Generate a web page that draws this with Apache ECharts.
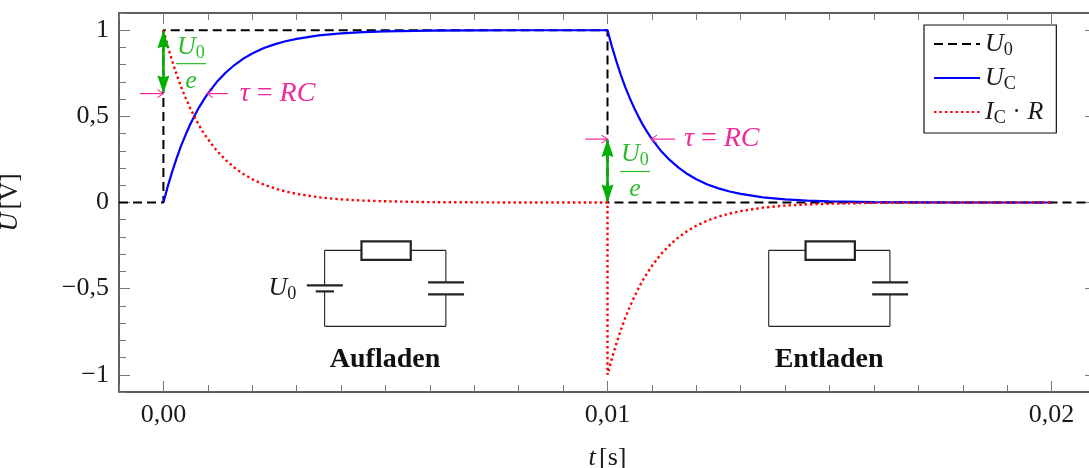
<!DOCTYPE html>
<html><head><meta charset="utf-8">
<style>html,body{margin:0;padding:0;background:#fff}#c{width:1089px;height:468px}</style>
<script src="https://cdn.jsdelivr.net/npm/echarts@6/dist/echarts.min.js"></script>
</head><body><div id="c"></div>
<script>
// ---- data ----
const xMajorTicks = [0, 0.01, 0.02];
const xTickLabels = ['0,00', '0,01', '0,02'];
const yMajorTicks = [-1, -0.5, 0, 0.5, 1];
const yTickLabels = ['\u22121', '\u22120,5', '0', '0,5', '1'];
const u0Times = [-0.001, 0, 0, 0.01, 0.01, 0.021];
const u0Values = [0, 0, 1, 1, 0, 0];
const curveTimes = [0,0.0001,0.0002,0.0003,0.0004,0.0005,0.0006,0.0007,0.0008,0.0009,0.001,0.0012,0.0014,0.0016,0.0018,0.002,0.00225,0.0025,0.00275,0.003,0.0035,0.004,0.0045,0.005,0.006,0.007,0.008,0.01,
  0.01,0.0101,0.0102,0.0103,0.0104,0.0105,0.0106,0.0107,0.0108,0.0109,0.011,0.0112,0.0114,0.0116,0.0118,0.012,0.01225,0.0125,0.01275,0.013,0.0135,0.014,0.0145,0.015,0.016,0.017,0.018,0.02];
const ucValues = [0,0.095,0.181,0.259,0.33,0.393,0.451,0.503,0.551,0.593,0.632,0.699,0.753,0.798,0.835,0.865,0.895,0.918,0.936,0.95,0.97,0.982,0.989,0.993,0.998,0.999,1,1,
  1,0.905,0.819,0.741,0.67,0.607,0.549,0.497,0.449,0.407,0.368,0.301,0.247,0.202,0.165,0.135,0.105,0.082,0.064,0.05,0.03,0.018,0.011,0.007,0.002,0.001,0,0];
const irValues = [1,0.905,0.819,0.741,0.67,0.607,0.549,0.497,0.449,0.407,0.368,0.301,0.247,0.202,0.165,0.135,0.105,0.082,0.064,0.05,0.03,0.018,0.011,0.007,0.002,0.001,0,0,
  -1,-0.905,-0.819,-0.741,-0.67,-0.607,-0.549,-0.497,-0.449,-0.407,-0.368,-0.301,-0.247,-0.202,-0.165,-0.135,-0.105,-0.082,-0.064,-0.05,-0.03,-0.018,-0.011,-0.007,-0.002,-0.001,0,0];
const seriesNames = ['U0', 'UC', 'IC\u00b7R'];
const irTimes = curveTimes.slice(0, 28).concat([0.01], curveTimes.slice(28));
const irAll = irValues.slice(0, 28).concat([0], irValues.slice(28));

const FONT = '"Liberation Serif","Times New Roman",serif';
const TEXT = '#1a1a1a', FRAME = '#2a2a2a', TICK = '#777';
const GREEN = '#00b000', GREENTXT = '#2cbc2c', PINK = '#ee2a9c';
const FS = 26;

function pairs(xs, ys) { return xs.map((x, i) => [x, ys[i]]); }
function mathRich(size, color) {
  return {
    i: {fontFamily: FONT, fontStyle: 'italic', fontSize: size, fill: color, color: color, verticalAlign: 'middle', lineHeight: 30},
    r: {fontFamily: FONT, fontSize: size, fill: color, color: color, verticalAlign: 'middle', lineHeight: 30},
    s: {fontFamily: FONT, fontSize: size * 0.7, fill: color, color: color, verticalAlign: 'bottom', lineHeight: 30}
  };
}
function txt(p, text, color, size, align, extra) {
  return {type: 'text', x: p[0], y: p[1], z2: 20, style: Object.assign({
    text: text, fill: color, fontFamily: FONT, fontSize: size,
    align: align || 'center', verticalAlign: 'middle', rich: mathRich(size, color)
  }, extra || {})};
}
function seg(a, b, color, w) {
  return {type: 'line', z2: 15, shape: {x1: a[0], y1: a[1], x2: b[0], y2: b[1]}, style: {stroke: color, lineWidth: w}};
}
function rectEl(a, b, color, w) {
  return {type: 'rect', z2: 15, shape: {x: a[0], y: a[1], width: b[0] - a[0], height: b[1] - a[1]}, style: {stroke: color, lineWidth: w, fill: '#fff'}};
}
function greenArrow(api, x, yTop, yBot) {
  const a = api.coord([x, yTop]), b = api.coord([x, yBot]);
  const L = 18, W = 6;
  return [
    seg([a[0], a[1] + 10], [b[0], b[1] - 10], GREEN, 2.6),
    {type: 'polygon', z2: 16, shape: {points: [[a[0], a[1]], [a[0] + W, a[1] + L], [a[0], a[1] + L - 2], [a[0] - W, a[1] + L]]}, style: {fill: GREEN}},
    {type: 'polygon', z2: 16, shape: {points: [[b[0], b[1]], [b[0] + W, b[1] - L], [b[0], b[1] - L + 2], [b[0] - W, b[1] - L]]}, style: {fill: GREEN}}
  ];
}
function pinkArrow(api, from, to) {
  const a = api.coord(from), b = api.coord(to);
  const d = b[0] > a[0] ? 1 : -1;
  return [
    seg(a, b, PINK, 1.2),
    {type: 'polyline', z2: 16, shape: {points: [[b[0] - d * 6, b[1] - 4], [b[0], b[1]], [b[0] - d * 6, b[1] + 4]]}, style: {stroke: PINK, fill: null, lineWidth: 1.1}}
  ];
}
function fraction(api, xc, yU, yBar, yE) {
  const u = api.coord([xc, yU]), bar = api.coord([xc, yBar]), e = api.coord([xc, yE]);
  return [
    txt(u, '{i|U}{s|0}', GREENTXT, FS),
    seg([bar[0] - 15, bar[1]], [bar[0] + 15, bar[1]], GREENTXT, 1.2),
    txt(e, '{i|e}', GREENTXT, FS)
  ];
}
function circuit(api, dx, withBattery) {
  const c = (x, y) => api.coord([x + dx, y]);
  const top = -0.278, bot = -0.719, xL = 0.00363, xR = 0.00636;
  const els = [];
  const W = 1.1, P = 2.2;
  els.push(seg(c(xL, top), c(0.00446, top), '#222', W));
  els.push(seg(c(0.00557, top), c(xR, top), '#222', W));
  els.push(rectEl(c(0.00446, -0.226), c(0.00557, -0.333), '#222', P));
  els.push(seg(c(xL, bot), c(xR, bot), '#222', W));
  if (withBattery) {
    els.push(seg(c(xL, top), c(xL, -0.481), '#222', W));
    els.push(seg(c(xL, -0.516), c(xL, bot), '#222', W));
    els.push(seg(c(0.00323, -0.481), c(0.00404, -0.481), '#222', P));
    els.push(seg(c(0.00343, -0.516), c(0.00384, -0.516), '#222', P));
  } else {
    els.push(seg(c(xL, top), c(xL, bot), '#222', W));
  }
  els.push(seg(c(xR, top), c(xR, -0.464), '#222', W));
  els.push(seg(c(xR, -0.533), c(xR, bot), '#222', W));
  els.push(seg(c(0.00596, -0.464), c(0.00677, -0.464), '#222', P));
  els.push(seg(c(0.00596, -0.533), c(0.00677, -0.533), '#222', P));
  return els;
}
function renderNotes(params, api) {
  let ch = [];
  ch = ch.concat(greenArrow(api, 0, 1, 0.632), greenArrow(api, 0.01, 0.368, 0));
  ch = ch.concat(fraction(api, 0.00062, 0.904, 0.806, 0.703), fraction(api, 0.01062, 0.278, 0.18, 0.075));
  ch = ch.concat(pinkArrow(api, [-0.00053, 0.632], [0, 0.632]), pinkArrow(api, [0.00145, 0.632], [0.00098, 0.632]));
  ch = ch.concat(pinkArrow(api, [0.0095, 0.368], [0.01, 0.368]), pinkArrow(api, [0.01152, 0.368], [0.01098, 0.368]));
  const tau = '{i|\u03c4}{r| = }{i|RC}';
  ch.push(txt(api.coord([0.00172, 0.632]), tau, PINK, FS + 2, 'left'));
  ch.push(txt(api.coord([0.01172, 0.368]), tau, PINK, FS + 2, 'left'));
  ch = ch.concat(circuit(api, 0, true), circuit(api, 0.01, false));
  ch.push(txt(api.coord([0.00268, -0.497]), '{i|U}{s|0}', TEXT, FS));
  ch.push(txt(api.coord([0.00499, -0.91]), 'Aufladen', '#111', 28, 'center', {fontWeight: 'bold'}));
  ch.push(txt(api.coord([0.01499, -0.91]), 'Entladen', '#111', 28, 'center', {fontWeight: 'bold'}));
  return {type: 'group', children: ch};
}

const xBase = {type: 'value', min: -0.001, max: 0.021, splitLine: {show: false}};
const yBase = {type: 'value', min: -1.1, max: 1.1, splitLine: {show: false}};
const frameLine = {show: true, onZero: false, lineStyle: {color: FRAME, width: 1.5}};
const minorTickStyle = {show: true, inside: true, length: 7, lineStyle: {color: TICK, width: 1}};
const labelStyle = {fontFamily: FONT, fontSize: FS, color: TEXT};

function xAxes(position, labelled) {
  return [
    Object.assign({}, xBase, {position, interval: 0.001, axisLine: frameLine, axisTick: minorTickStyle, axisLabel: {show: false}}),
    Object.assign({}, xBase, {position, interval: 0.001, axisLine: {show: false, onZero: false},
      axisTick: {show: true, inside: true, length: 11, customValues: xMajorTicks, lineStyle: {color: TICK, width: 1}},
      axisLabel: labelled ? Object.assign({show: true, margin: 10, customValues: xMajorTicks,
        formatter: v => xTickLabels[xMajorTicks.findIndex(t => Math.abs(t - v) < 1e-9)]}, labelStyle) : {show: false},
      name: labelled ? '{i|t} {r|[s]}' : '', nameLocation: 'middle', nameGap: 51,
      nameTextStyle: {rich: mathRich(FS, TEXT)}})
  ];
}
function yAxes(position, labelled) {
  return [
    Object.assign({}, yBase, {position, interval: 0.1, axisLine: frameLine, axisTick: minorTickStyle, axisLabel: {show: false}}),
    Object.assign({}, yBase, {position, interval: 0.1, axisLine: {show: false, onZero: false},
      axisTick: {show: true, inside: true, length: 11, customValues: yMajorTicks, lineStyle: {color: TICK, width: 1}},
      axisLabel: labelled ? Object.assign({show: true, margin: 10, customValues: yMajorTicks,
        formatter: v => yTickLabels[yMajorTicks.findIndex(t => Math.abs(t - v) < 1e-9)]}, labelStyle) : {show: false},
      name: labelled ? '{i|U} {r|[V]}' : '', nameLocation: 'middle', nameGap: 94, nameRotate: 90,
      nameTextStyle: {rich: mathRich(FS, TEXT)}})
  ];
}

const legendNames = {
  [seriesNames[0]]: '{i|U}{s|0}',
  [seriesNames[1]]: '{i|U}{s|C}',
  [seriesNames[2]]: '{i|I}{s|C}{r| \u00b7 }{i|R}'
};

const chart = echarts.init(document.getElementById('c'), null, {renderer: 'canvas'});
chart.setOption({
  animation: false,
  backgroundColor: '#fff',
  grid: {left: 119, right: -7, top: 13, bottom: 76, outerBoundsMode: 'none'},
  xAxis: xAxes('bottom', true).concat(xAxes('top', false)),
  yAxis: yAxes('left', true).concat(yAxes('right', false)),
  legend: {
    data: seriesNames, orient: 'vertical', left: 924, top: 25,
    backgroundColor: '#fff', borderColor: '#111', borderWidth: 1.2, borderRadius: 0,
    padding: [6, 13, 6, 9], itemWidth: 46, itemHeight: 14, itemGap: 6, align: 'left',
    selectedMode: false,
    itemStyle: {color: 'transparent', borderWidth: 0},
    formatter: n => legendNames[n],
    textStyle: {rich: mathRich(FS, TEXT)}
  },
  series: [
    {name: seriesNames[0], type: 'line', data: pairs(u0Times, u0Values), symbol: 'none', z: 3,
      lineStyle: {color: '#000', width: 2, type: [9, 5]}, itemStyle: {color: '#000'}},
    {name: seriesNames[1], type: 'line', data: pairs(curveTimes, ucValues), symbol: 'none', z: 4,
      lineStyle: {color: '#0000ff', width: 2.2}, itemStyle: {color: '#0000ff'}},
    {name: seriesNames[2], type: 'line', data: pairs(irTimes, irAll), symbol: 'none', z: 5,
      lineStyle: {color: '#ff0000', width: 2.4, type: [2.4, 3]}, itemStyle: {color: '#ff0000'}},
    {name: 'notes', type: 'custom', data: [[0, 0]], renderItem: renderNotes, z: 6, clip: false, silent: true}
  ]
});
</script></body></html>
